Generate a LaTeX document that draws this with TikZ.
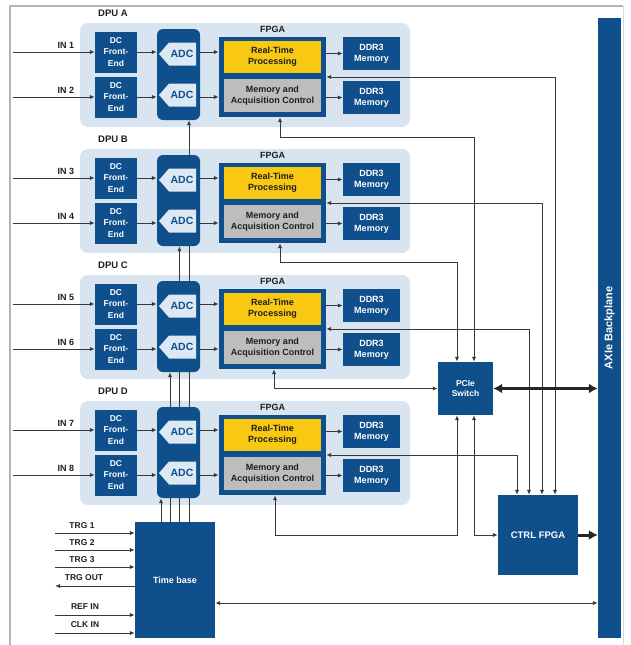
\documentclass[tikz,border=0pt]{standalone}
\usepackage{fontspec}
\setmainfont{Liberation Sans}
\usetikzlibrary{arrows.meta}
\pgfdeclarelayer{bg}\pgfdeclarelayer{mid}\pgfsetlayers{bg,mid,main}
\definecolor{dblue}{HTML}{0E4F8C}
\definecolor{pblue}{HTML}{D8E4F0}
\definecolor{ainner}{HTML}{DCE8F4}
\definecolor{yel}{HTML}{F8C812}
\definecolor{gry}{HTML}{BDBDBD}
\definecolor{wirec}{HTML}{383838}
\definecolor{framec}{HTML}{B4B4B4}
\definecolor{txt}{HTML}{1E1E1E}
\tikzset{
 blk/.style={fill=dblue, text=white, font=\bfseries\fontsize{8.5}{10.5}\selectfont, align=center, inner sep=0pt, draw=none},
 sub/.style={text=txt, font=\bfseries\fontsize{9}{11}\selectfont, align=center, inner sep=0pt},
 lab/.style={text=txt, font=\bfseries\fontsize{8.5}{9.5}\selectfont, inner sep=0pt},
 wire/.style={draw=wirec, line width=1pt, -{Latex[length=5pt,width=4.2pt]}},
 dwire/.style={draw=wirec, line width=1pt, {Latex[length=5pt,width=4.2pt]}-{Latex[length=5pt,width=4.2pt]}},
 fat/.style={draw=black!85, line width=3pt, -{Latex[length=9pt,width=10pt]}},
 dfat/.style={draw=black!85, line width=3pt, {Latex[length=9pt,width=10pt]}-{Latex[length=9pt,width=10pt]}},
}
\begin{document}
\begin{tikzpicture}[x=1pt,y=-1pt]
\useasboundingbox (0,0) rectangle (630,645);
% frame
\draw[framec, line width=1.4pt] (10,645) -- (10,6) -- (623,6);
\draw[framec!50, line width=1pt] (623,6) -- (623,645);

% backplane
\node[blk, minimum width=23, minimum height=620] (bp) at (609.5,328) {};
\node[text=white, font=\bfseries\fontsize{11}{12}\selectfont, rotate=90, inner sep=0pt] (bpt) at (bp.center) {AXIe Backplane};

% central blocks
\node[blk, minimum width=55, minimum height=53] (pcie) at (465.5,388.5) {PCIe\\Switch};
\node[blk, minimum width=80, minimum height=80, font=\bfseries\fontsize{9.5}{10}\selectfont] (ctrl) at (538,535) {CTRL FPGA};
\node[blk, minimum width=80, minimum height=116, font=\bfseries\fontsize{9}{10}\selectfont] (tb) at (175,580) {Time base};

\foreach \L/\o/\a/\b/\bx in {A/0/1/2/555,B/126/3/4/542,C/252/5/6/529,D/378/7/8/517}{
  \begin{pgfonlayer}{bg}
    \node[fill=pblue, rounded corners=8pt, minimum width=330, minimum height=104, inner sep=0pt] (pan\L) at (245,{75+\o}) {};
  \end{pgfonlayer}
  \node[lab, font=\bfseries\fontsize{9.5}{10}\selectfont] (dpu\L) at (113,{13+\o}) {DPU \L};
  % front ends
  \node[blk, minimum width=42, minimum height=41, font=\bfseries\fontsize{8.5}{11.5}\selectfont] (fe\L1) at (116,{52+\o}) {DC\\Front-\\End};
  \node[blk, minimum width=42, minimum height=41, font=\bfseries\fontsize{8.5}{11.5}\selectfont] (fe\L2) at (116,{97+\o}) {DC\\Front-\\End};
  % inputs
  \coordinate (in\a) at (13,{52+\o});
  \coordinate (in\b) at (13,{97+\o});
  \node[lab, font=\bfseries\fontsize{9}{9.5}\selectfont] (inl\a) at (66,{45.5+\o}) {IN \a};
  \node[lab, font=\bfseries\fontsize{9}{9.5}\selectfont] (inl\b) at (66,{90.5+\o}) {IN \b};
  \draw[wire] (in\a) -- (in\a -| fe\L1.west);
  \draw[wire] (in\b) -- (in\b -| fe\L2.west);
  % ADC column
  \node[blk, minimum width=43, minimum height=91, rounded corners=6pt] (col\L) at (178.5,{74.5+\o}) {};
  \fill[ainner] (159,{54+\o}) -- (169,{42.5+\o}) -- (196,{42.5+\o}) -- (196,{65.5+\o}) -- (169,{65.5+\o}) -- cycle;
  \fill[ainner] (159,{95+\o}) -- (169,{83.5+\o}) -- (196,{83.5+\o}) -- (196,{106.5+\o}) -- (169,{106.5+\o}) -- cycle;
  \node[text=dblue, font=\bfseries\fontsize{10.5}{11}\selectfont, inner sep=0pt] (adc\L1) at (182,{54+\o}) {ADC};
  \node[text=dblue, font=\bfseries\fontsize{10.5}{11}\selectfont, inner sep=0pt] (adc\L2) at (182,{95+\o}) {ADC};
  \draw[wire] (fe\L1.east) -- (fe\L1.east -| col\L.west);
  \draw[wire] (fe\L2.east) -- (fe\L2.east -| col\L.west);
  % FPGA
  \node[lab, font=\bfseries\fontsize{9}{10}\selectfont] (fl\L) at (272.5,{29+\o}) {FPGA};
  \node[blk, minimum width=107, minimum height=80] (fpga\L) at (272.5,{77+\o}) {};
  \node[sub, fill=yel, minimum width=97, minimum height=32] (rt\L) at (272.5,{57+\o}) {Real-Time\\Processing};
  \node[sub, fill=gry, minimum width=97, minimum height=33] (mac\L) at (272.5,{95.5+\o}) {Memory and\\Acquisition Control};
  \draw[wire] (fe\L1.east -| col\L.east) -- (fe\L1.east -| fpga\L.west);
  \draw[wire] (fe\L2.east -| col\L.east) -- (fe\L2.east -| fpga\L.west);
  % DDR3
  \node[blk, minimum width=57, minimum height=33, font=\bfseries\fontsize{9}{11}\selectfont] (dd\L1) at (371.5,{53.5+\o}) {DDR3\\Memory};
  \node[blk, minimum width=57, minimum height=33, font=\bfseries\fontsize{9}{11}\selectfont] (dd\L2) at (371.5,{97.5+\o}) {DDR3\\Memory};
  \draw[wire] (dd\L1.west -| fpga\L.east) -- (dd\L1.west);
  \draw[wire] (dd\L2.west -| fpga\L.east) -- (dd\L2.west);
  % control bus to CTRL FPGA
  \coordinate (bx\L) at (\bx,0);
  \draw[dwire] (fpga\L.east) -| (bx\L |- ctrl.north);
}

% FPGA bottom links to PCIe switch
\coordinate (tA) at (280,137);
\coordinate (tB) at (280,262);
\coordinate (tC) at (274,388.5);
\coordinate (tD) at (275,535);
\draw[dwire] (tA |- fpgaA.south) -- (tA) -| ([xshift=8.5pt]pcie.north);
\draw[dwire] (tB |- fpgaB.south) -- (tB) -| ([xshift=-8.5pt]pcie.north);
\draw[dwire] (tC |- fpgaC.south) -- (tC) -- (tC -| pcie.west);
\draw[dwire] (tD |- fpgaD.south) -- (tD) -| ([xshift=-8.5pt]pcie.south);
\draw[dwire] ([xshift=8.5pt]pcie.south) |- (ctrl.west);

% thick links to backplane
\draw[dfat] (pcie.east) -- (pcie.east -| bp.west);
\draw[fat] (ctrl.east) -- (ctrl.east -| bp.west);

% time base to backplane
\coordinate (tbus) at (400,603);
\draw[dwire] (tbus -| tb.east) -- (tbus -| bp.west);

% clock lines
\coordinate (ckA) at (189,0);
\coordinate (ckB) at (179.5,0);
\coordinate (ckC) at (170,0);
\coordinate (ckD) at (161,0);
\begin{pgfonlayer}{mid}
  \draw[wire] (ckA |- tb.north) -- (ckA |- colA.south);
  \draw[wire] (ckB |- tb.north) -- (ckB |- colB.south);
  \draw[wire] (ckC |- tb.north) -- (ckC |- colC.south);
  \draw[wire] (ckD |- tb.north) -- (ckD |- colD.south);
\end{pgfonlayer}

% time base I/O
\coordinate (trg1) at (55,533);
\coordinate (trg2) at (55,550);
\coordinate (trg3) at (55,567);
\coordinate (trgo) at (55,586);
\coordinate (refin) at (55,615);
\coordinate (clkin) at (55,633);
\draw[wire] (trg1) -- (trg1 -| tb.west);
\draw[wire] (trg2) -- (trg2 -| tb.west);
\draw[wire] (trg3) -- (trg3 -| tb.west);
\draw[wire] (trgo -| tb.west) -- (trgo);
\draw[wire] (refin) -- (refin -| tb.west);
\draw[wire] (clkin) -- (clkin -| tb.west);
\node[lab] (trg1l) at (82,526) {TRG 1};
\node[lab] (trg2l) at (82,543) {TRG 2};
\node[lab] (trg3l) at (82,560) {TRG 3};
\node[lab] (trgol) at (84,578) {TRG OUT};
\node[lab] (refl) at (85,607) {REF IN};
\node[lab] (clkl) at (85,625) {CLK IN};
\end{tikzpicture}
\end{document}
